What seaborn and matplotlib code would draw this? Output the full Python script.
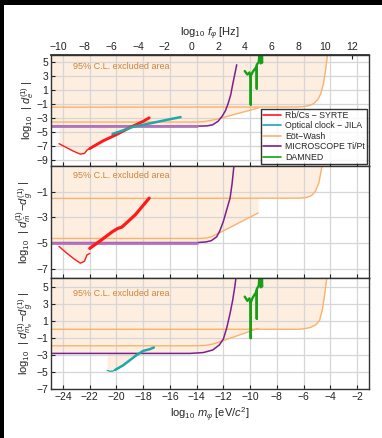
import numpy as np
import seaborn as sns
import matplotlib.pyplot as plt
from matplotlib.lines import Line2D
from matplotlib.patches import Rectangle

# ---- data (x = log10 m [eV/c^2], y = log10 |coupling|) ----
# panel 1: d_e
e_red_thin_m = [-24.3, -23.8, -23.2, -22.7, -22.4, -22.2, -22.0]
e_red_thin_y = [-6.7, -7.2, -7.8, -8.2, -8.1, -7.6, -7.4]
e_red_m = [-22.0, -21.0, -20.0, -19.0, -18.0, -17.55]
e_red_y = [-7.4, -6.3, -5.4, -4.4, -3.5, -3.0]
e_cyan_m = [-20.3, -19.5, -18.8, -18.0, -17.0, -16.0, -15.2]
e_cyan_y = [-5.3, -4.8, -4.3, -4.0, -3.6, -3.2, -2.9]
e_ew_up_m = [-24.9, -6.5, -6.0, -5.5, -5.2, -4.9, -4.7, -4.5, -4.35, -4.2]
e_ew_up_y = [-1.47, -1.45, -1.4, -1.2, -0.9, -0.3, 0.5, 2.0, 3.8, 6.2]
e_ew_lo_m = [-24.9, -14.0, -13.5, -13.0, -12.5, -9.4]
e_ew_lo_y = [-3.6, -3.6, -3.55, -3.4, -3.2, -1.6]
e_mic_m = [-24.9, -14.0, -13.2, -12.8, -12.4, -12.1, -11.85, -11.65, -11.45, -11.3, -11.15, -11.0]
e_mic_y = [-4.2, -4.2, -4.15, -4.0, -3.5, -2.8, -2.0, -1.0, 0.3, 1.8, 3.2, 4.6]
e_dam_m = [-10.4, -10.2, -10.05, -9.95, -9.95, -9.95, -9.8, -9.6, -9.5, -9.5, -9.5, -9.35, -9.3, -9.2, -9.15, -9.1, -9.1]
e_dam_y = [3.7, 3.2, 3.5, 2.8, -1.1, 3.0, 3.6, 4.1, 4.4, 1.2, 4.6, 5.0, 6.2, 4.8, 5.5, 4.9, 6.2]

# panel 2: d_mhat - d_g
m_red_thin_m = [-24.3, -23.8, -23.2, -22.7, -22.4, -22.2, -22.0]
m_red_thin_y = [-5.25, -5.7, -6.2, -6.55, -6.4, -5.9, -5.8]
m_red_m = [-22.0, -21.2, -20.3, -19.9, -19.6, -18.6, -17.55]
m_red_y = [-5.4, -4.8, -4.1, -3.85, -3.75, -2.8, -1.5]
m_ew_up_m = [-24.9, -6.3, -5.8, -5.4, -5.1, -4.85, -4.6]
m_ew_up_y = [-1.52, -1.5, -1.45, -1.3, -0.95, -0.3, 1.1]
m_ew_lo_m = [-24.9, -13.8, -13.3, -12.9, -12.4, -9.4]
m_ew_lo_y = [-4.63, -4.63, -4.6, -4.5, -4.25, -2.65]
m_mic_m = [-24.9, -14.0, -13.3, -12.9, -12.5, -12.25, -12.0, -11.75, -11.5, -11.35, -11.2]
m_mic_y = [-4.95, -4.95, -4.9, -4.8, -4.5, -4.0, -3.3, -2.4, -1.5, -0.4, 1.1]

# panel 3: d_me - d_g
g_cyan_thin_m = [-20.7, -20.5, -20.3, -20.1]
g_cyan_thin_y = [-4.8, -4.9, -4.9, -4.75]
g_cyan_m = [-20.1, -19.5, -19.0, -18.5, -18.0, -17.5, -17.2]
g_cyan_y = [-4.75, -4.2, -3.6, -3.0, -2.5, -2.3, -2.1]
g_ew_up_m = [-24.9, -6.4, -6.0, -5.5, -5.1, -4.8, -4.6, -4.45, -4.25]
g_ew_up_y = [0.05, 0.05, 0.1, 0.25, 0.55, 1.1, 2.3, 3.8, 6.2]
g_ew_lo_m = [-24.9, -14.0, -13.3, -12.8, -12.3, -9.4]
g_ew_lo_y = [-1.9, -1.9, -1.85, -1.7, -1.45, 0.15]
g_mic_m = [-24.9, -14.5, -13.5, -12.8, -12.3, -12.0, -11.75, -11.5, -11.3, -11.15, -11.05]
g_mic_y = [-2.8, -2.8, -2.7, -2.4, -1.8, -1.1, 0.2, 1.9, 3.5, 5.0, 6.2]
g_dam_m = e_dam_m
g_dam_y = [3.9, 3.4, 3.7, 3.1, -1.0, 3.2, 3.8, 4.3, 4.6, 1.3, 4.8, 5.2, 6.3, 5.0, 5.6, 5.1, 6.3]

x_ticks = [-24, -22, -20, -18, -16, -14, -12, -10, -8, -6, -4, -2]
f_ticks = [-10, -8, -6, -4, -2, 0, 2, 4, 6, 8, 10, 12]
f_offset = 14.38  # log10 f = log10 m + log10(e/h)

legend_labels = ["Rb/Cs \u2212 SYRTE", "Optical clock \u2212 JILA", "E\u00f6t\u2212Wash",
                 "MICROSCOPE Ti/Pt", "DAMNED"]

RED = "#ff1a1a"
CYAN = "#1fa8a8"
ORANGE = "#fbb26c"
PURPLE = "#7d1f8e"
PURPLE_L = "#b272bd"
GREEN = "#17a017"
FILL = "#fdeee0"
TXT = "#c8873c"

sns.set_theme(style="white")
plt.rcParams["font.family"] = ["Liberation Sans", "DejaVu Sans"]
plt.rcParams["mathtext.fontset"] = "custom"
plt.rcParams["mathtext.rm"] = "Liberation Sans"
plt.rcParams["mathtext.it"] = "Liberation Sans:italic"

fig = plt.figure(figsize=(3.82, 4.38), dpi=100, facecolor="black")
fig.add_artist(Rectangle((4 / 382, 0), 1, (438 - 5) / 438, transform=fig.transFigure,
                         facecolor="white", edgecolor="none", zorder=-10))

L, W = 51 / 382, 318 / 382
ax1 = fig.add_axes([L, (438 - 166) / 438, W, 111 / 438])
ax2 = fig.add_axes([L, (438 - 278) / 438, W, 112 / 438])
ax3 = fig.add_axes([L, (438 - 389) / 438, W, 111 / 438])


def line(ax, m, y, color, lw, fill_top=None):
    if fill_top is not None:
        ax.fill_between(m, y, fill_top, color=FILL, lw=0, zorder=0.2)
    sns.lineplot(x=m, y=y, ax=ax, color=color, lw=lw, sort=False, estimator=None, zorder=2)


def frame(ax, ylim, yticks, ylabel, ty):
    ax.set_xlim(-24.9, -1.1)
    ax.set_ylim(*ylim)
    ax.set_xticks(x_ticks)
    ax.set_yticks(yticks)
    ax.set_axisbelow(True)
    ax.grid(True, color="#d6d6d6", lw=0.9)
    ax.tick_params(direction="in", length=3, width=0.8, labelsize=7.5, pad=2,
                   bottom=True, left=True, top=False, right=False, colors="#222222")
    ax.set_xticklabels([])
    for s in ax.spines.values():
        s.set_color("#333333")
        s.set_linewidth(1.0)
    ax.set_ylabel(ylabel, fontsize=8, labelpad=0)
    ax.set_xlabel("")
    ax.text(0.069, ty, "95% C.L. excluded area", transform=ax.transAxes, color=TXT,
            fontsize=6.5, ha="left", va="center", zorder=3)


# panel 1
top1 = 6.0
line(ax1, e_ew_up_m, e_ew_up_y, ORANGE, 1.0, top1)
line(ax1, e_ew_lo_m, e_ew_lo_y, ORANGE, 1.0, top1)
line(ax1, e_mic_m, e_mic_y, PURPLE, 1.1, top1)
line(ax1, e_mic_m[:2], e_mic_y[:2], PURPLE_L, 2.0)
line(ax1, e_red_thin_m, e_red_thin_y, RED, 1.0, top1)
line(ax1, e_red_m, e_red_y, RED, 2.1, top1)
line(ax1, e_cyan_m, e_cyan_y, CYAN, 1.8, top1)
line(ax1, e_dam_m, e_dam_y, GREEN, 1.7)
frame(ax1, (-9.9, top1), [5, 3, 1, -1, -3, -5, -7, -9],
      r"log$_{10}$  | $d_e^{(1)}$ |", 0.895)

# panel 2
top2 = 1.0
line(ax2, m_ew_up_m, m_ew_up_y, ORANGE, 1.0, top2)
line(ax2, m_ew_lo_m, m_ew_lo_y, ORANGE, 1.0, top2)
line(ax2, m_mic_m, m_mic_y, PURPLE, 1.1, top2)
line(ax2, m_mic_m[:2], m_mic_y[:2], PURPLE_L, 2.0)
line(ax2, m_red_thin_m, m_red_thin_y, RED, 1.0, top2)
line(ax2, m_red_m, m_red_y, RED, 2.3, top2)
frame(ax2, (-7.7, top2), [-1, -3, -5, -7],
      r"log$_{10}$  | $d_{\hat{m}}^{(1)}\!-\!d_g^{(1)}$ |", 0.913)

# panel 3
top3 = 6.1
line(ax3, g_ew_up_m, g_ew_up_y, ORANGE, 1.0, top3)
line(ax3, g_ew_lo_m, g_ew_lo_y, ORANGE, 1.0, top3)
line(ax3, g_mic_m, g_mic_y, PURPLE, 1.1, top3)
line(ax3, g_cyan_thin_m, g_cyan_thin_y, CYAN, 0.9, top3)
line(ax3, g_cyan_m, g_cyan_y, CYAN, 1.8, top3)
line(ax3, g_dam_m, g_dam_y, GREEN, 1.7)
frame(ax3, (-7.0, top3), [5, 3, 1, -1, -3, -5, -7],
      r"log$_{10}$  | $d_{m_e}^{(1)}\!-\!d_g^{(1)}$ |", 0.862)
ax3.set_xticklabels([f"{t:d}".replace("-", "\u2212") for t in x_ticks])
ax3.set_xlabel(r"log$_{10}$ $m_\varphi$ [eV/$c^2$]", fontsize=8, labelpad=3)

# top frequency axis
sec = ax1.secondary_xaxis("top", functions=(lambda m: m + f_offset, lambda f: f - f_offset))
sec.set_xticks(f_ticks)
sec.tick_params(direction="in", length=3, width=0.8, labelsize=7.5, pad=2, colors="#222222")
sec.set_xlabel(r"log$_{10}$ $f_\varphi$ [Hz]", fontsize=8, labelpad=4)

# legend
handles = [Line2D([], [], color=c, lw=1.2) for c in [RED, CYAN, ORANGE, PURPLE, GREEN]]
leg = ax1.legend(handles, legend_labels, loc="lower right", fontsize=6.3, frameon=True,
                 fancybox=False, labelspacing=0.18, borderpad=0.25, handlelength=2.0,
                 handletextpad=0.5, borderaxespad=0.2)
leg.get_frame().set_edgecolor("black")
leg.get_frame().set_linewidth(1.0)
leg.set_zorder(5)

fig.savefig("out.png", dpi=100, facecolor=fig.get_facecolor())
